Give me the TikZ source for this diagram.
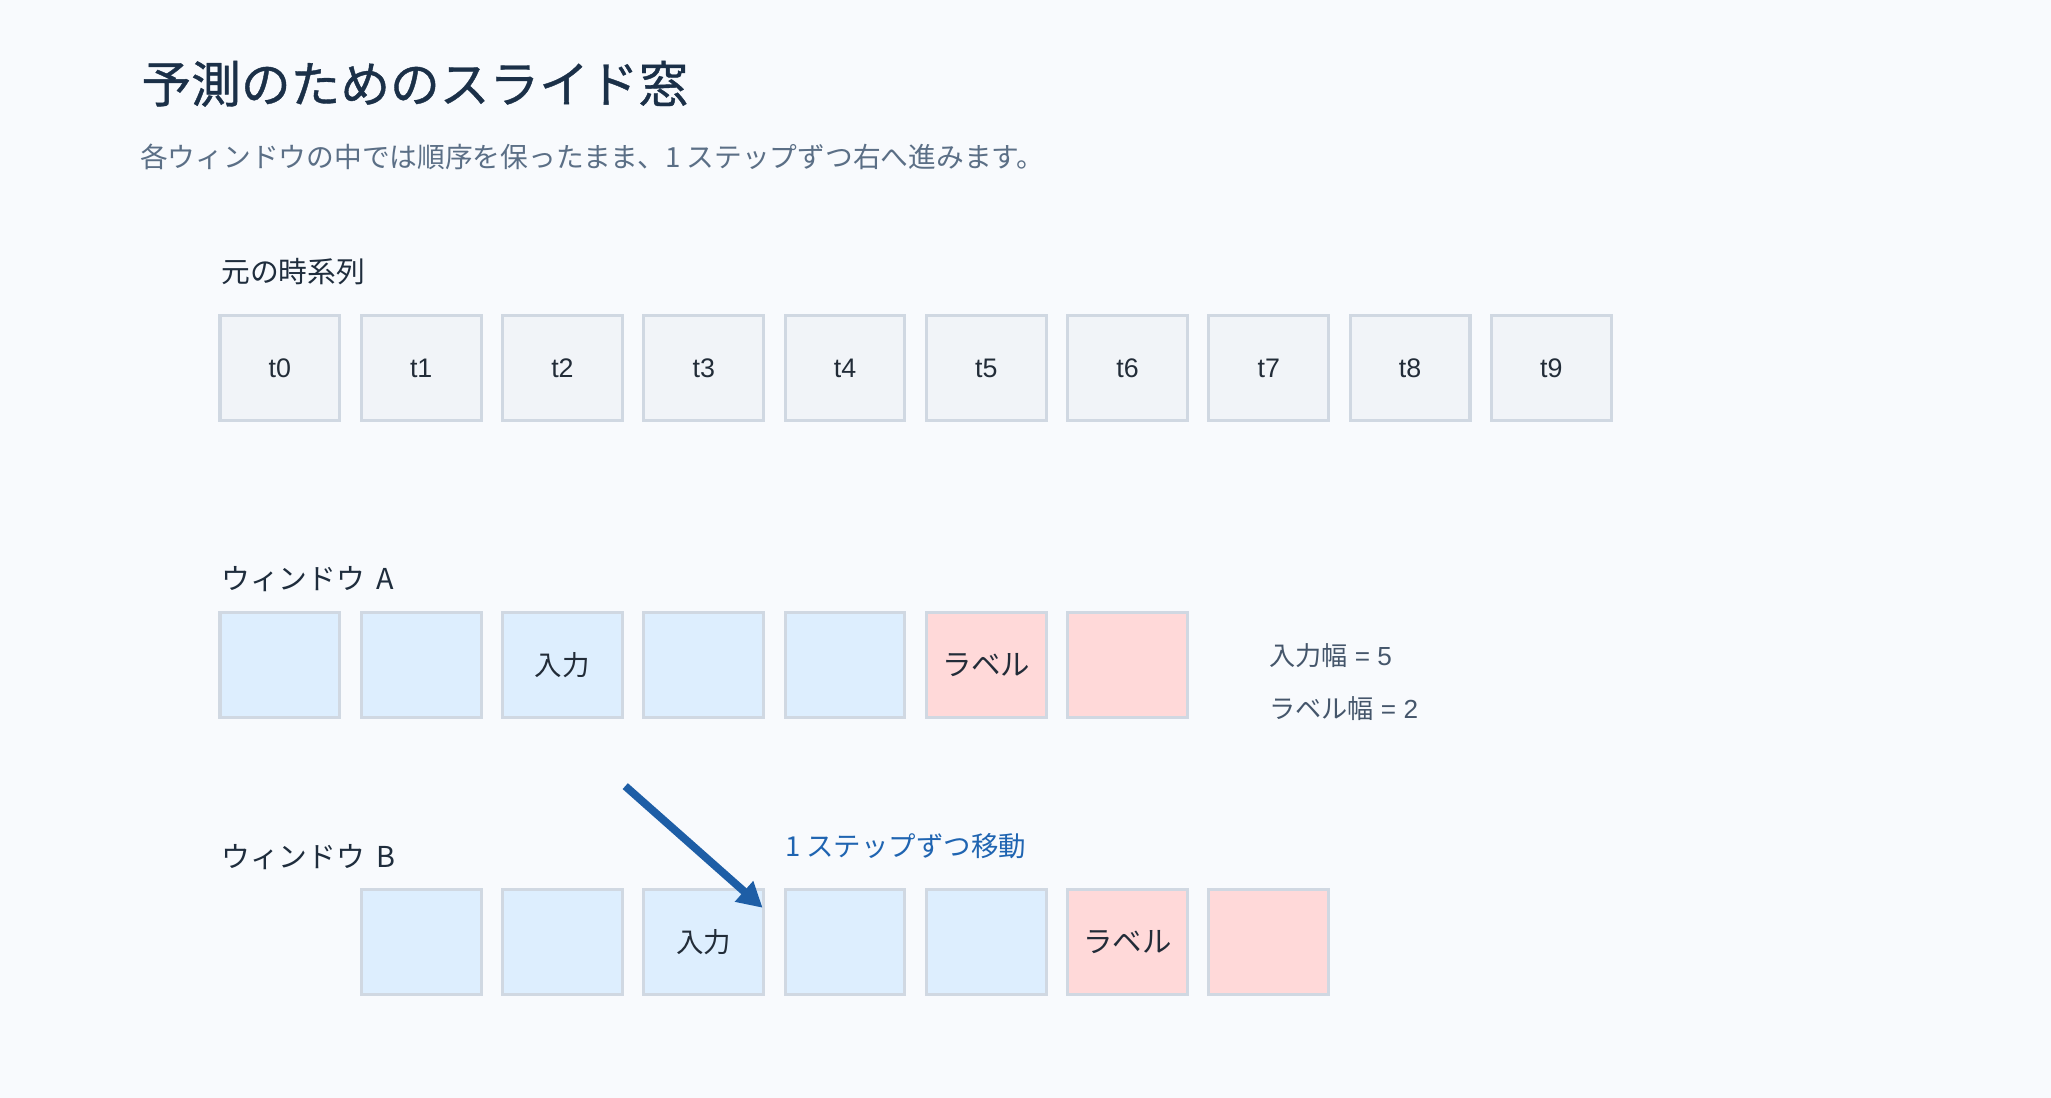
\documentclass[tikz,border=0pt]{standalone}
\usepackage{fontspec}
\setmainfont{Liberation Sans}
\newfontfamily\cjk{Noto Sans CJK JP}
\newfontfamily\cjktitle[FakeBold=0.8]{Noto Sans CJK JP}
\usetikzlibrary{arrows.meta}
\definecolor{bgc}{HTML}{F8FAFD}
\definecolor{titlec}{HTML}{1B3048}
\definecolor{subc}{HTML}{5B6F86}
\definecolor{labc}{HTML}{1F2D3D}
\definecolor{greyfill}{HTML}{F1F4F8}
\definecolor{boxline}{HTML}{D0D8E2}
\definecolor{bluefill}{HTML}{DDEEFE}
\definecolor{redfill}{HTML}{FFD9D9}
\definecolor{boxtext}{HTML}{222C38}
\definecolor{arrowc}{HTML}{1E5EA6}
\definecolor{bluetext}{HTML}{1F64B1}
\definecolor{sidec}{HTML}{45566B}
\begin{document}
\begin{tikzpicture}[x=1pt,y=1pt,
  cell/.style={draw=boxline,line width=2.4pt,minimum width=91.6pt,minimum height=80.6pt,inner sep=0pt,text=boxtext,font=\fontsize{20.5}{24}\selectfont},
  greycell/.style={cell,fill=greyfill},
  bluecell/.style={cell,fill=bluefill},
  redcell/.style={cell,fill=redfill},
  cjkcell/.style={font=\cjk\fontsize{21}{24}\selectfont},
  labcell/.style={font=\cjk\fontsize{22.5}{26}\selectfont},
  rowlabel/.style={anchor=west,inner sep=0pt,text=labc,font=\cjk\fontsize{22}{26}\selectfont},
  sidelabel/.style={anchor=west,inner sep=0pt,text=sidec,font=\fontsize{20}{24}\selectfont},
  movearrow/.style={draw=arrowc,line width=6pt,-{Triangle[length=19pt,width=20pt]}}
]
\useasboundingbox[fill=bgc] (0,0) rectangle (1568,-839.4);
\node[anchor=west,inner sep=0pt,text=titlec,font=\cjktitle\fontsize{38}{44}\selectfont] (title) at (108,-64) {予測のためのスライド窓};
\node[anchor=west,inner sep=0pt,text=subc,font=\cjk\fontsize{21.2}{25}\selectfont] (sub) at (107,-120) {各ウィンドウの中では順序を保ったまま、1 ステップずつ右へ進みます。};
\node[rowlabel] (lab0) at (169,-208) {元の時系列};
\foreach \i in {0,...,9} {
  \node[greycell] (t\i) at (214+108*\i,-281.5) {t\i};
}
\node[rowlabel] (labA) at (169,-443) {ウィンドウ\hspace{9pt}A};
\node[bluecell] (a0) at (214,-508.5) {};
\node[bluecell] (a1) at (322,-508.5) {};
\node[bluecell,cjkcell] (a2) at (430,-508.5) {入力};
\node[bluecell] (a3) at (538,-508.5) {};
\node[bluecell] (a4) at (646,-508.5) {};
\node[redcell,labcell] (a5) at (754,-508.5) {ラベル};
\node[redcell] (a6) at (862,-508.5) {};
\node[sidelabel] (wa) at (970,-501) {{\cjk 入力幅} = 5};
\node[sidelabel] (wb) at (970,-542) {{\cjk ラベル幅} = 2};
\node[rowlabel] (labB) at (169,-655) {ウィンドウ\hspace{9pt}B};
\node[bluecell] (b0) at (322,-720) {};
\node[bluecell] (b1) at (430,-720) {};
\node[bluecell,cjkcell] (b2) at (538,-720) {入力};
\node[bluecell] (b3) at (646,-720) {};
\node[bluecell] (b4) at (754,-720) {};
\node[redcell,labcell] (b5) at (862,-720) {ラベル};
\node[redcell] (b6) at (970,-720) {};
\node[anchor=west,inner sep=0pt,text=bluetext,font=\cjk\fontsize{21}{25}\selectfont] (move) at (600,-647) {1 ステップずつ移動};
\coordinate (arrs) at (478,-601);
\coordinate (arre) at (583,-694);
\draw[movearrow] (arrs) -- (arre);
\end{tikzpicture}
\end{document}
